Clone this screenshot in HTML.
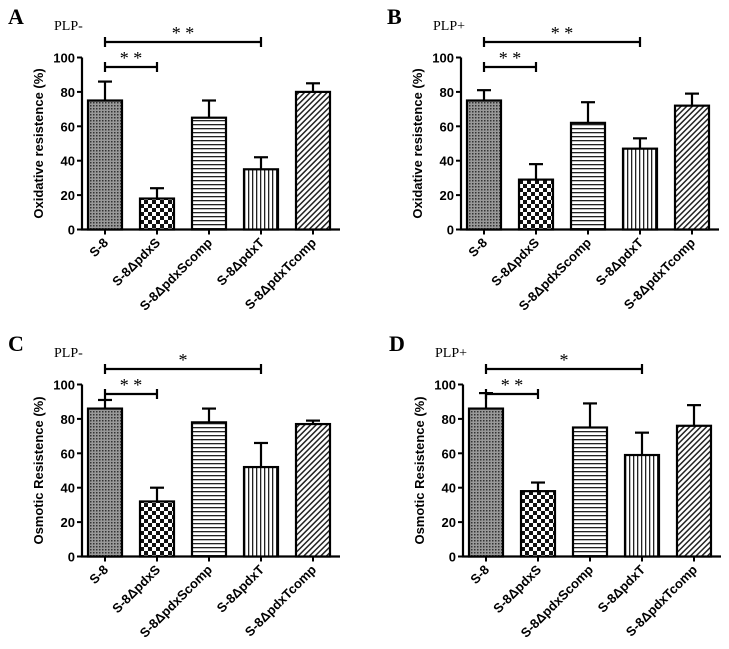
<!DOCTYPE html>
<html><head><meta charset="utf-8"><style>
body{margin:0;background:#fff}
svg{display:block}
.t{font-family:"Liberation Sans",sans-serif;font-weight:bold;font-size:13px}
.s{font-family:"Liberation Serif",serif}
</style></head><body>
<svg id="c" width="729" height="649">
<defs>
<pattern id="p0" width="3" height="3" patternUnits="userSpaceOnUse"><rect width="3" height="3" fill="#999"/><rect width="1.5" height="1.5" fill="#333"/></pattern>
<pattern id="p1" width="8" height="8" patternUnits="userSpaceOnUse"><rect width="8" height="8" fill="#fff"/><rect width="4" height="4" fill="#111"/><rect x="4" y="4" width="4" height="4" fill="#111"/></pattern>
<pattern id="p2" width="4" height="4" patternUnits="userSpaceOnUse"><rect width="4" height="4" fill="#fff"/><rect width="4" height="1.3" fill="#222"/></pattern>
<pattern id="p3" width="4" height="4" patternUnits="userSpaceOnUse"><rect width="4" height="4" fill="#fff"/><rect width="1.3" height="4" fill="#222"/></pattern>
<pattern id="p4" width="4" height="4" patternUnits="userSpaceOnUse" patternTransform="rotate(45)"><rect width="4" height="4" fill="#fff"/><rect width="1.5" height="4" fill="#222"/></pattern>
</defs>
</svg>
<script>
const categories=["S-8","S-8ΔpdxS","S-8ΔpdxScomp","S-8ΔpdxT","S-8ΔpdxTcomp"];
const valuesA=[75,18,65,35,80];const errA=[11,6,10,7,5];
const valuesB=[75,29,62,47,72];const errB=[6,9,12,6,7];
const valuesC=[86,32,78,52,77];const errC=[5,8,8,14,2];
const valuesD=[86,38,75,59,76];const errD=[9,5,14,13,12];
const yTicks=[0,20,40,60,80,100];
const panels=[
{id:"A",plp:"PLP-",yl:"Oxidative resistence (%)",v:valuesA,e:errA,sig:["* *","* *"],dx:0,dy:0},
{id:"B",plp:"PLP+",yl:"Oxidative resistence (%)",v:valuesB,e:errB,sig:["* *","* *"],dx:379,dy:0},
{id:"C",plp:"PLP-",yl:"Osmotic Resistence (%)",v:valuesC,e:errC,sig:["* *","*"],dx:0,dy:327},
{id:"D",plp:"PLP+",yl:"Osmotic Resistence (%)",v:valuesD,e:errD,sig:["* *","*"],dx:381,dy:327}];
const svg=document.getElementById('c');const NS="http://www.w3.org/2000/svg";
function mk(t,a,p){const e=document.createElementNS(NS,t);for(const k in a)e.setAttribute(k,a[k]);(p||svg).appendChild(e);return e;}
panels.forEach(P=>{
const g=mk('g',{transform:`translate(${P.dx},${P.dy})`});


const x0=82,x1=340,y0=229.5,y100=57.5;
const ys=v=>y0-(y0-y100)*v/100;const xs=i=>105+i*52;
let t=mk('text',{x:8,y:24,'font-size':22,'font-weight':'bold',class:'s'},g);t.textContent=P.id;

t=mk('text',{x:54,y:30,'font-size':14,class:'s'},g);t.textContent=P.plp;

let ax=mk('path',{d:`M${x0},${y100}V${y0}H${x1}`,stroke:'#000','stroke-width':2.2,fill:'none'},g);

yTicks.forEach(v=>{mk('line',{x1:x0-5,x2:x0,y1:ys(v),y2:ys(v),stroke:'#000','stroke-width':2},g);
const tt=mk('text',{x:x0-7,y:ys(v)+5,'text-anchor':'end',class:'t'},g);tt.textContent=v;
});
t=mk('text',{transform:`translate(43,${(y0+y100)/2}) rotate(-90)`,'text-anchor':'middle',class:'t','font-size':14},g);t.textContent=P.yl;

categories.forEach((c,i)=>{const cx=xs(i),top=ys(P.v[i]),et=ys(P.v[i]+P.e[i]);
mk('line',{x1:cx,x2:cx,y1:top,y2:et,stroke:'#000','stroke-width':2.2},g);
mk('line',{x1:cx-7,x2:cx+7,y1:et,y2:et,stroke:'#000','stroke-width':2.2},g);
const r=mk('rect',{x:cx-17,y:top,width:34,height:y0-top,fill:`url(#p${i})`,stroke:'#000','stroke-width':2.2},g);

mk('line',{x1:cx,x2:cx,y1:y0,y2:y0+5,stroke:'#000','stroke-width':2},g);
const lt=mk('text',{transform:`translate(${cx+4},${y0+14}) rotate(-45)`,'text-anchor':'end',class:'t'},g);lt.textContent=c;
});
[[1,67,0],[3,42,1]].forEach(([j,y,k])=>{const a=xs(0),b=xs(j);
const br=mk('path',{d:`M${a},${y-5}V${y+5}M${a},${y}H${b}M${b},${y-5}V${y+5}`,stroke:'#000','stroke-width':2.2,fill:'none'},g);

const st=mk('text',{x:(a+b)/2,y:y-3,'text-anchor':'middle',class:'s','font-size':18},g);st.textContent=P.sig[k];
});
});
</script>
</body></html>
